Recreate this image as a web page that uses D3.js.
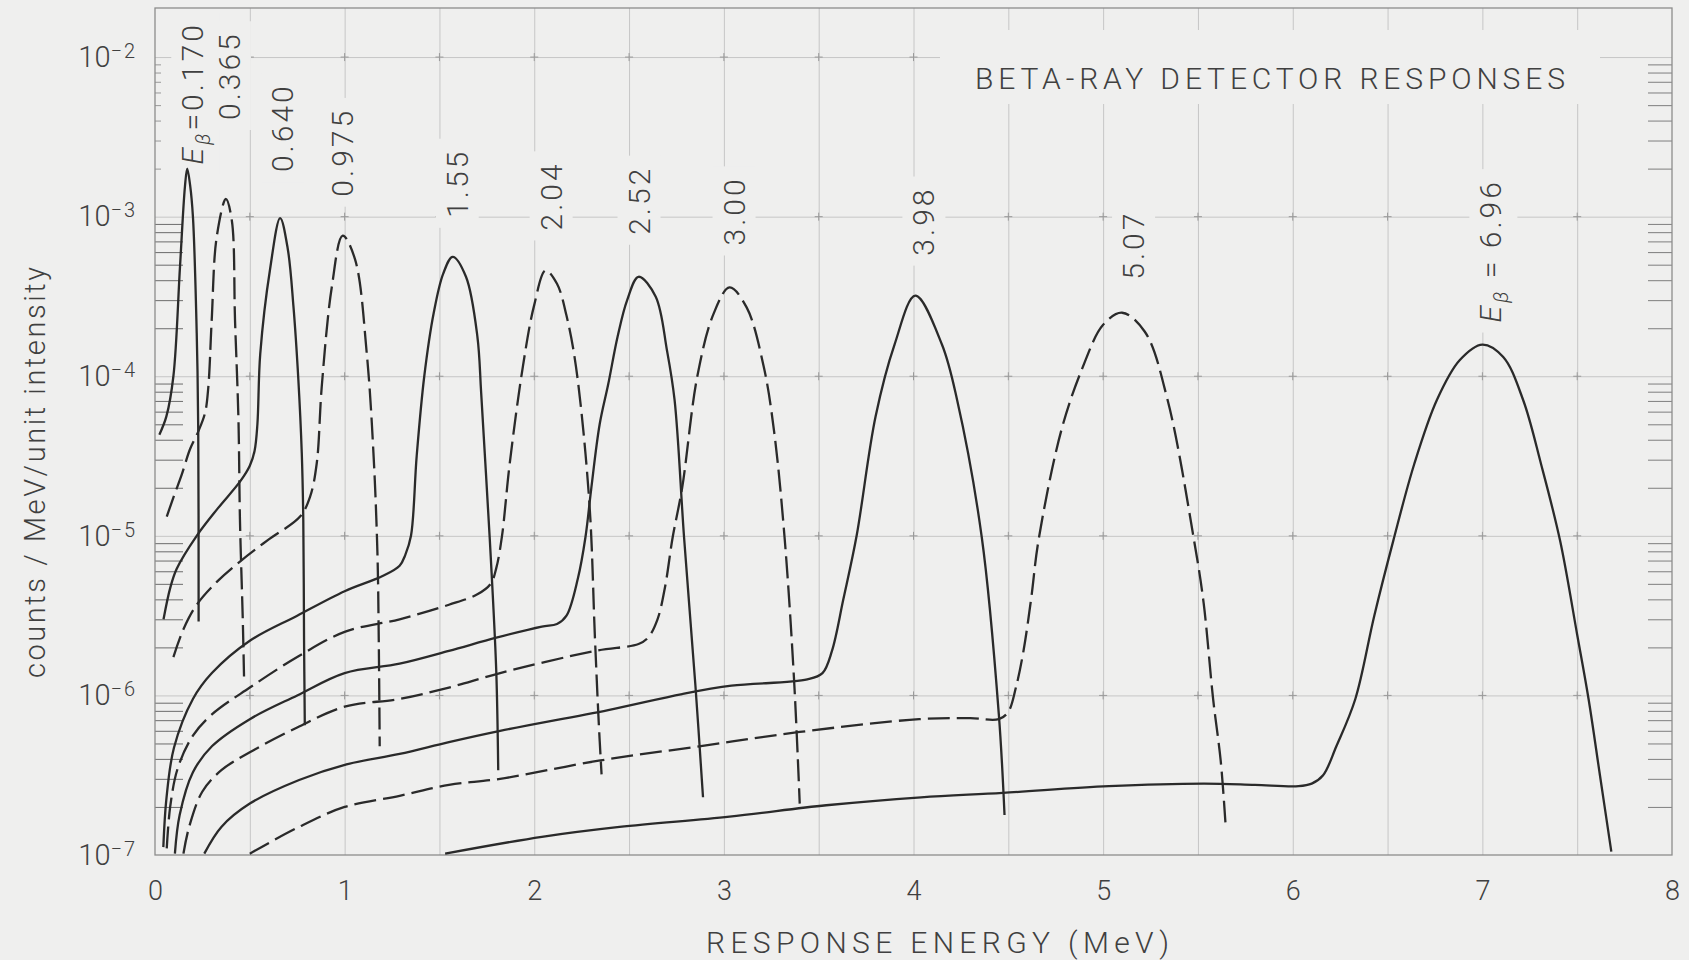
<!DOCTYPE html>
<html>
<head>
<meta charset="utf-8">
<script src="https://cdn.jsdelivr.net/npm/d3@7"></script>
<style>
  body { margin: 0; background: #efefee; }
  svg { display: block; }
  text { font-family: Roboto, "Noto Sans", sans-serif; font-weight: 300; fill: #404040; }
</style>
</head>
<body>
<svg id="chart" width="1689" height="960"></svg>
<script>
// response curves: [response energy (MeV), counts/MeV/unit intensity]
var e0170 = [[0.023, 4.3e-5], [0.06, 5.6e-5], [0.097, 1.0e-4], [0.132, 4.9e-4], [0.158, 1.55e-3], [0.170, 2.0e-3],
  [0.185, 1.58e-3], [0.20, 1.0e-3], [0.22, 1.86e-4], [0.228, 4.6e-5], [0.230, 2.9e-6]];
var e0365 = [[0.062, 1.32e-5], [0.10, 1.78e-5], [0.14, 2.4e-5], [0.185, 3.5e-5], [0.228, 4.5e-5], [0.264, 5.9e-5],
  [0.281, 8.5e-5], [0.299, 2.24e-4], [0.325, 7.4e-4], [0.374, 1.29e-3], [0.405, 9.5e-4], [0.422, 2.24e-4],
  [0.44, 5.4e-5], [0.448, 1.26e-5], [0.463, 2.95e-6], [0.47, 1.23e-6]];
var e0640 = [[0.045, 3.0e-6], [0.08, 4.7e-6], [0.114, 6.2e-6], [0.22, 1.0e-5], [0.33, 1.48e-5], [0.45, 2.2e-5],
  [0.50, 2.75e-5], [0.525, 3.4e-5], [0.54, 5.0e-5], [0.555, 1.38e-4], [0.607, 4.7e-4], [0.66, 9.8e-4],
  [0.70, 6.3e-4], [0.73, 2.75e-4], [0.756, 9.5e-5], [0.774, 3.3e-5], [0.782, 1.26e-5], [0.786, 2.24e-6], [0.79, 6.5e-7]];
var e0975 = [[0.097, 1.74e-6], [0.15, 2.6e-6], [0.22, 3.7e-6], [0.33, 5.2e-6], [0.448, 6.9e-6], [0.60, 9.5e-6],
  [0.765, 1.32e-5], [0.818, 1.76e-5], [0.853, 2.85e-5], [0.879, 8.5e-5], [0.932, 3.6e-4], [0.99, 7.6e-4],
  [1.055, 5.4e-4], [1.117, 1.38e-4], [1.152, 3.3e-5], [1.173, 7.8e-6], [1.18, 2.24e-6], [1.185, 4.8e-7]];
var e1550 = [[0.044, 1.12e-7], [0.06, 2.24e-7], [0.10, 4.7e-7], [0.2, 9.5e-7], [0.3, 1.38e-6], [0.5, 2.2e-6],
  [0.75, 3.16e-6], [1.0, 4.5e-6], [1.2, 5.6e-6], [1.29, 6.5e-6], [1.32, 7.6e-6], [1.35, 1.0e-5], [1.38, 3.16e-5],
  [1.42, 1.0e-4], [1.47, 2.5e-4], [1.52, 4.4e-4], [1.57, 5.6e-4], [1.64, 4.2e-4], [1.70, 1.78e-4], [1.72, 7.9e-5],
  [1.745, 2.5e-5], [1.775, 5.9e-6], [1.80, 1.38e-6], [1.81, 3.4e-7]];
var e2040 = [[0.062, 1.1e-7], [0.08, 2.0e-7], [0.12, 3.5e-7], [0.2, 5.6e-7], [0.3, 7.6e-7], [0.5, 1.12e-6],
  [0.75, 1.74e-6], [1.0, 2.5e-6], [1.29, 3.0e-6], [1.55, 3.7e-6], [1.70, 4.3e-6], [1.77, 5.0e-6], [1.80, 6.3e-6],
  [1.83, 1.0e-5], [1.87, 2.8e-5], [1.94, 1.15e-4], [2.00, 2.8e-4], [2.06, 4.6e-4], [2.12, 3.8e-4], [2.17, 2.4e-4],
  [2.22, 1.15e-4], [2.29, 1.66e-5], [2.32, 2.3e-6], [2.34, 6.8e-7], [2.355, 3.2e-7]];
var e2520 = [[0.105, 1.02e-7], [0.13, 1.78e-7], [0.2, 3.3e-7], [0.3, 4.8e-7], [0.5, 7.1e-7], [0.75, 1.0e-6],
  [1.0, 1.38e-6], [1.29, 1.58e-6], [1.55, 1.9e-6], [1.80, 2.3e-6], [2.04, 2.7e-6], [2.12, 2.8e-6], [2.17, 3.16e-6],
  [2.23, 5.4e-6], [2.27, 9.8e-6], [2.30, 1.95e-5], [2.345, 5.0e-5], [2.39, 8.9e-5], [2.44, 1.78e-4], [2.49, 3.0e-4],
  [2.55, 4.2e-4], [2.64, 3.16e-4], [2.70, 1.45e-4], [2.74, 7.1e-5], [2.79, 9.8e-6], [2.85, 1.15e-6], [2.89, 2.3e-7]];
var e3000 = [[0.15, 1.02e-7], [0.18, 1.5e-7], [0.25, 2.5e-7], [0.35, 3.4e-7], [0.5, 4.4e-7], [0.75, 6.3e-7],
  [1.0, 8.5e-7], [1.29, 9.5e-7], [1.55, 1.12e-6], [1.82, 1.38e-6], [2.32, 1.9e-6], [2.55, 2.1e-6], [2.60, 2.3e-6],
  [2.65, 3.0e-6], [2.69, 4.8e-6], [2.73, 9.8e-6], [2.78, 2.0e-5], [2.86, 1.0e-4], [2.945, 2.45e-4], [3.03, 3.6e-4],
  [3.12, 2.7e-4], [3.21, 1.15e-4], [3.265, 4.5e-5], [3.32, 9.8e-6], [3.37, 1.26e-6], [3.40, 2.1e-7]];
var e3980 = [[0.26, 1.02e-7], [0.35, 1.5e-7], [0.5, 2.1e-7], [0.76, 2.95e-7], [1.01, 3.7e-7], [1.29, 4.3e-7],
  [1.55, 5.1e-7], [1.82, 6.0e-7], [2.39, 8.1e-7], [2.78, 1.02e-6], [3.04, 1.15e-6], [3.44, 1.26e-6], [3.52, 1.38e-6],
  [3.57, 1.9e-6], [3.63, 4.0e-6], [3.70, 1.0e-5], [3.80, 5.6e-5], [3.90, 1.58e-4], [4.01, 3.2e-4], [4.15, 1.58e-4],
  [4.23, 7.1e-5], [4.36, 9.8e-6], [4.45, 7.6e-7], [4.48, 1.78e-7]];
var e5070 = [[0.50, 1.02e-7], [0.75, 1.48e-7], [1.0, 2.0e-7], [1.29, 2.35e-7], [1.55, 2.75e-7], [1.82, 3.0e-7],
  [2.34, 3.9e-7], [2.87, 4.8e-7], [3.40, 5.9e-7], [4.03, 7.1e-7], [4.30, 7.2e-7], [4.45, 7.1e-7], [4.50, 7.9e-7],
  [4.54, 1.12e-6], [4.58, 1.9e-6], [4.62, 4.0e-6], [4.66, 9.5e-6], [4.78, 4.6e-5], [4.89, 1.12e-4], [5.00, 2.1e-4],
  [5.10, 2.5e-4], [5.22, 1.9e-4], [5.34, 7.1e-5], [5.48, 9.3e-6], [5.53, 3.8e-6], [5.58, 9.5e-7], [5.62, 3.9e-7],
  [5.645, 1.6e-7]];
var e6960 = [[1.53, 1.02e-7], [2.04, 1.3e-7], [2.45, 1.5e-7], [3.03, 1.74e-7], [3.54, 2.05e-7], [4.04, 2.3e-7],
  [4.47, 2.45e-7], [5.03, 2.7e-7], [5.53, 2.8e-7], [5.80, 2.75e-7], [6.03, 2.7e-7], [6.10, 2.8e-7], [6.16, 3.16e-7],
  [6.23, 4.8e-7], [6.33, 9.5e-7], [6.43, 3.16e-6], [6.53, 9.3e-6], [6.64, 2.8e-5], [6.76, 7.1e-5], [6.88, 1.26e-4],
  [7.00, 1.58e-4], [7.11, 1.32e-4], [7.215, 7.1e-5], [7.31, 2.8e-5], [7.41, 9.3e-6], [7.50, 2.4e-6], [7.56, 9.5e-7],
  [7.62, 3.16e-7], [7.68, 1.05e-7]];

var peakLabels = ["0.170", "0.365", "0.640", "0.975", "1.55", "2.04", "2.52", "3.00", "3.98", "5.07", "6.96"];
var seriesList = [e0170, e0365, e0640, e0975, e1550, e2040, e2520, e3000, e3980, e5070, e6960];
var xTicks = [0, 1, 2, 3, 4, 5, 6, 7, 8];
var decades = [1e-7, 1e-6, 1e-5, 1e-4, 1e-3, 1e-2];

// layout / style
var dashedLine = [false, true, false, true, false, true, false, true, false, true, false];
var labelDx = [16, 14, 13, 10, 15, 16, 11, 15, 19, 22, 19];
var labelDy = [-4, -79, -46, -39, -39, -40, -42, -42, -40, -33, -22];

var svg = d3.select("svg#chart"),
    width = +svg.attr("width"),
    height = +svg.attr("height");

var bg = "#efefee";
var ink = "#2a2a2a";

var x = d3.scaleLinear().domain([0, 8]).range([155, 1672]);
var y = d3.scaleLog().domain([1e-7, 0.0203]).range([855, 8]);

var plotLeft = x.range()[0], plotRight = x.range()[1],
    plotTop = y.range()[1], plotBottom = y.range()[0];

svg.append("rect").attr("width", width).attr("height", height).attr("fill", bg);

svg.append("defs").append("clipPath").attr("id", "plot-clip")
  .append("rect")
    .attr("x", plotLeft).attr("y", plotTop)
    .attr("width", plotRight - plotLeft).attr("height", plotBottom - plotTop);

// grid
svg.append("g")
    .attr("transform", "translate(0," + plotBottom + ")")
    .call(d3.axisBottom(x).tickValues(d3.range(0.5, 8, 0.5)).tickSize(-(plotBottom - plotTop)).tickFormat(""))
    .call(function(g) { g.select(".domain").remove(); })
    .call(function(g) { g.selectAll("line").attr("stroke", "#c6c6c6").attr("stroke-width", 1); });

svg.append("g")
    .attr("transform", "translate(" + plotLeft + ",0)")
    .call(d3.axisLeft(y).tickValues(decades.slice(1)).tickSize(-(plotRight - plotLeft)).tickFormat(""))
    .call(function(g) { g.select(".domain").remove(); })
    .call(function(g) { g.selectAll("line").attr("stroke", "#c6c6c6").attr("stroke-width", 1); });

// little crosses where grid lines meet
var crossPts = [];
d3.range(0.5, 8, 0.5).forEach(function(e) {
  decades.slice(1).forEach(function(v) { crossPts.push([e, v]); });
});
svg.append("g").selectAll("path").data(crossPts).join("path")
    .attr("d", function(d) {
      var px = x(d[0]), py = y(d[1]);
      return "M" + (px - 4) + "," + py + "H" + (px + 4) + "M" + px + "," + (py - 4) + "V" + (py + 4);
    })
    .attr("stroke", "#9a9a9a").attr("stroke-width", 1);

// minor log ticks inside the frame
var minorTicks = [];
[-7, -6, -5, -4, -3].forEach(function(k) {
  d3.range(2, 10).forEach(function(m) { minorTicks.push(m * Math.pow(10, k)); });
});
var minorLow = minorTicks.filter(function(v) { return v < 1e-3; });
var minorTop = minorTicks.filter(function(v) { return v > 1e-3; });

svg.append("g")
    .attr("transform", "translate(" + plotLeft + ",0)")
    .call(d3.axisLeft(y).tickValues(minorLow).tickSize(-28).tickFormat(""))
    .call(function(g) { g.select(".domain").remove(); })
    .call(function(g) { g.selectAll("line").attr("stroke", "#777").attr("stroke-width", 1.1); });

svg.append("g")
    .attr("transform", "translate(" + plotLeft + ",0)")
    .call(d3.axisLeft(y).tickValues(minorTop).tickSize(-6).tickFormat(""))
    .call(function(g) { g.select(".domain").remove(); })
    .call(function(g) { g.selectAll("line").attr("stroke", "#999").attr("stroke-width", 1); });

svg.append("g")
    .attr("transform", "translate(" + plotRight + ",0)")
    .call(d3.axisRight(y).tickValues(minorTicks).tickSize(-24).tickFormat(""))
    .call(function(g) { g.select(".domain").remove(); })
    .call(function(g) { g.selectAll("line").attr("stroke", "#888").attr("stroke-width", 1.1); });

// frame
svg.append("rect")
    .attr("x", plotLeft).attr("y", plotTop)
    .attr("width", plotRight - plotLeft).attr("height", plotBottom - plotTop)
    .attr("fill", "none").attr("stroke", "#8c8c8c").attr("stroke-width", 1.3);

// x tick labels
svg.append("g")
    .attr("transform", "translate(0," + plotBottom + ")")
    .call(d3.axisBottom(x).tickValues(xTicks).tickSize(0).tickPadding(26).tickFormat(d3.format("d")))
    .call(function(g) { g.select(".domain").remove(); })
    .call(function(g) { g.attr("font-family", null).attr("font-size", 27); });

// y tick labels, 10 with a raised exponent
svg.append("g")
    .attr("transform", "translate(" + plotLeft + ",0)")
    .call(d3.axisLeft(y).tickValues(decades).tickSize(0).tickPadding(18).tickFormat(""))
    .call(function(g) { g.select(".domain").remove(); })
    .call(function(g) { g.attr("font-family", null).attr("font-size", 29); })
    .call(function(g) {
      g.selectAll(".tick text").each(function(d) {
        var t = d3.select(this);
        t.append("tspan").text("10");
        t.append("tspan").attr("dy", "-0.45em").attr("font-size", 20).attr("letter-spacing", 2)
          .text("\u2212" + (-Math.round(Math.log10(d))));
      });
    });

// axis titles
svg.append("text")
    .attr("x", 706).attr("y", 953)
    .attr("font-size", 30)
    .attr("textLength", 463).attr("lengthAdjust", "spacing")
    .text("RESPONSE ENERGY (MeV)");

svg.append("text")
    .attr("transform", "translate(45," + ((plotTop + plotBottom) / 2 + 41) + ") rotate(-90)")
    .attr("text-anchor", "middle")
    .attr("font-size", 29)
    .attr("textLength", 411).attr("lengthAdjust", "spacing")
    .text("counts / MeV/unit intensity");

// chart title with a paper-coloured patch behind it
svg.append("rect")
    .attr("x", 940).attr("y", 30).attr("width", 660).attr("height", 74)
    .attr("fill", bg);
svg.append("text")
    .attr("x", 975).attr("y", 89)
    .attr("font-size", 30)
    .attr("textLength", 590).attr("lengthAdjust", "spacing")
    .text("BETA-RAY DETECTOR RESPONSES");

// peak labels
var peaks = seriesList.map(function(s) { return d3.greatest(s, function(d) { return d[1]; }); });

var lab = svg.append("g").selectAll("g")
  .data(peakLabels)
  .join("g")
    .attr("transform", function(d, i) {
      return "translate(" + (x(peaks[i][0]) + labelDx[i]) + "," + (y(peaks[i][1]) + labelDy[i]) + ") rotate(-90)";
    });

lab.append("rect").attr("fill", bg);

var labText = lab.append("text")
    .attr("font-size", 30)
    .attr("letter-spacing", 3);

labText.each(function(d, i) {
  var t = d3.select(this);
  if (i === 0 || i === peakLabels.length - 1) {
    t.append("tspan").attr("font-style", "italic").text("E");
    t.append("tspan").attr("font-size", 20).attr("font-style", "italic").attr("dy", "0.35em").text("\u03b2");
    t.append("tspan").attr("dy", "-0.23em").text(i === 0 ? "=" : " = ");
  }
  t.append("tspan").text(d);
});

lab.each(function() {
  var b = d3.select(this).select("text").node().getBBox();
  d3.select(this).select("rect")
    .attr("x", b.x - 10).attr("y", b.y - 4)
    .attr("width", b.width + 20).attr("height", b.height + 8);
});

// response curves
var line = d3.line()
    .x(function(d) { return x(d[0]); })
    .y(function(d) { return y(d[1]); })
    .curve(d3.curveCatmullRom.alpha(0.5));

svg.append("g")
    .attr("clip-path", "url(#plot-clip)")
  .selectAll("path")
  .data(seriesList)
  .join("path")
    .attr("d", line)
    .attr("fill", "none")
    .attr("stroke", ink)
    .attr("stroke-width", 2.3)
    .attr("stroke-linejoin", "round")
    .attr("stroke-dasharray", function(d, i) { return dashedLine[i] ? "22,7" : null; });
</script>
</body>
</html>
